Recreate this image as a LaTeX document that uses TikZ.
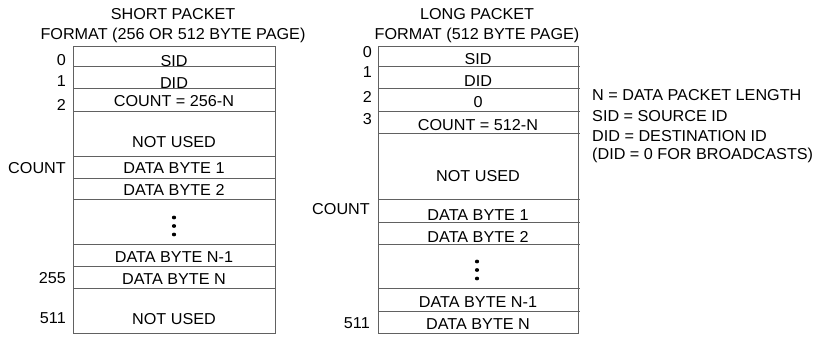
\documentclass[tikz,border=0pt]{standalone}
\usepackage{fontspec}
\setmainfont[FakeStretch=1.025]{Liberation Sans}
\begin{document}
\begin{tikzpicture}[x=1bp,y=-1bp,
  rule/.style={draw=black!62,line width=0.8bp},
  txt/.style={inner sep=0pt,anchor=base,font=\fontsize{15.8bp}{18bp}\selectfont},
  cell/.style={txt},
  lbl/.style={txt,anchor=base east},
  legend/.style={txt,anchor=base west},
  dot/.style={fill=black,draw=none}]
\useasboundingbox (0,0) rectangle (818,339);

% ---------- short packet ----------
\node[txt] (st1) at (173,19) {SHORT PACKET};
\node[txt] (st2) at (173,39) {FORMAT (256 OR 512 BYTE PAGE)};
\draw[rule] (73,46) rectangle (275,333);
\foreach \y in {66,88,111,156,178,199,244,266,288}
  \draw[rule] (73,\y) -- (275,\y);
\node[cell] (s0) at (174,66)  {SID};
\node[cell] (s1) at (174,88)  {DID};
\node[cell] (s2) at (174,106) {COUNT = 256-N};
\node[cell] (s3) at (174,147) {NOT USED};
\node[cell] (s4) at (174,173) {DATA BYTE 1};
\node[cell] (s5) at (174,195) {DATA BYTE 2};
\node[cell] (s7) at (174,262) {DATA BYTE N-1};
\node[cell] (s8) at (174,284) {DATA BYTE N};
\node[cell] (s9) at (174,324) {NOT USED};
\foreach \y in {217.5,226,234.5}
  \fill[dot] (174,\y) ellipse (2.1 and 1.9);
\node[lbl] (sl0) at (66,65)  {0};
\node[lbl] (sl1) at (66,86)  {1};
\node[lbl] (sl2) at (66,110) {2};
\node[lbl] (sl3) at (66,173) {COUNT};
\node[lbl] (sl4) at (66,283) {255};
\node[lbl] (sl5) at (66,323) {511};

% ---------- long packet ----------
\node[txt] (lt1) at (477,19) {LONG PACKET};
\node[txt] (lt2) at (477,39) {FORMAT (512 BYTE PAGE)};
\draw[rule] (378,46) rectangle (578,333);
\foreach \y in {66,88,111,133,199,222,244,288,311}
  \draw[rule] (378,\y) -- (580,\y);
\node[cell] (l0) at (478,64)  {SID};
\node[cell] (l1) at (478,86)  {DID};
\node[cell] (l2) at (478,107) {0};
\node[cell] (l3) at (478,130) {COUNT = 512-N};
\node[cell] (l4) at (478,181) {NOT USED};
\node[cell] (l5) at (478,220) {DATA BYTE 1};
\node[cell] (l6) at (478,242) {DATA BYTE 2};
\node[cell] (l8) at (478,307) {DATA BYTE N-1};
\node[cell] (l9) at (478,329) {DATA BYTE N};
\foreach \y in {261.5,270,278.5}
  \fill[dot] (477,\y) ellipse (2.1 and 1.9);
\node[lbl] (ll0) at (372,57)  {0};
\node[lbl] (ll1) at (372,77)  {1};
\node[lbl] (ll2) at (372,102) {2};
\node[lbl] (ll3) at (372,124) {3};
\node[lbl] (ll4) at (370,214) {COUNT};
\node[lbl] (ll5) at (370,328) {511};

% ---------- legend ----------
\node[legend] (k1) at (592,100.5) {N = DATA PACKET LENGTH};
\node[legend] (k2) at (592,121.5) {SID = SOURCE ID};
\node[legend] (k3) at (592,141)   {DID = DESTINATION ID};
\node[legend] (k4) at (592,159.5) {(DID = 0 FOR BROADCASTS)};
\end{tikzpicture}
\end{document}
